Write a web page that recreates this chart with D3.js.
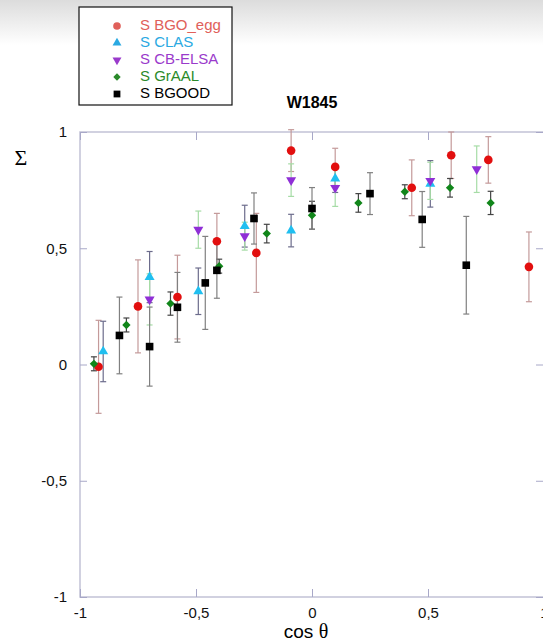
<!DOCTYPE html>
<html>
    <head>
        <meta charset="utf-8">
        <title> W1845 Sigma </title>
        <script type="text/javascript" src="https://d3js.org/d3.v7.min.js"></script>
        <style>
            body { margin: 0; background: white; }
            text { font-family: "Liberation Sans", Arial, Helvetica, sans-serif; }
            .tick text { font-size: 15px; fill: #111; }
            .tick line { stroke: #a8a8c8; }
        </style>
    </head>
    <body>
        <script>

            // Valeurs : cos theta, Sigma, erreur
            var bgoX   = [-0.92, -0.75, -0.58, -0.41, -0.24, -0.09, 0.10, 0.43, 0.60, 0.76, 0.935];
            var bgoY   = [-0.01, 0.25, 0.29, 0.53, 0.48, 0.92, 0.85, 0.76, 0.90, 0.88, 0.42];
            var bgoErr = [0.20, 0.20, 0.18, 0.12, 0.17, 0.09, 0.08, 0.12, 0.10, 0.10, 0.15];

            var clasX   = [-0.90, -0.70, -0.49, -0.29, -0.09, 0.10, 0.51];
            var clasY   = [0.056, 0.376, 0.315, 0.595, 0.576, 0.80, 0.777];
            var clasErr = [0.13, 0.11, 0.10, 0.09, 0.07, 0.06, 0.10];

            var elsaX   = [-0.70, -0.49, -0.29, -0.09, 0.10, 0.51, 0.71];
            var elsaY   = [0.28, 0.58, 0.552, 0.793, 0.76, 0.79, 0.84];
            var elsaErr = [0.11, 0.08, 0.06, 0.07, 0.08, 0.08, 0.10];

            var graalX   = [-0.94, -0.80, -0.61, -0.40, -0.195, 0.0, 0.20, 0.40, 0.595, 0.77];
            var graalY   = [0.003, 0.17, 0.262, 0.423, 0.563, 0.642, 0.695, 0.743, 0.76, 0.695];
            var graalErr = [0.03, 0.03, 0.05, 0.03, 0.04, 0.06, 0.04, 0.03, 0.04, 0.05];

            var bgoodX   = [-0.83, -0.70, -0.58, -0.46, -0.41, -0.25, 0.0, 0.25, 0.475, 0.665];
            var bgoodY   = [0.125, 0.077, 0.246, 0.351, 0.405, 0.628, 0.671, 0.735, 0.624, 0.427];
            var bgoodErr = [0.165, 0.17, 0.15, 0.20, 0.12, 0.11, 0.09, 0.09, 0.12, 0.21];

            var seriesNames = ["S BGO_egg", "S CLAS", "S CB-ELSA", "S GrAAL", "S BGOOD"];
            var tickValues = [-1, -0.5, 0, 0.5, 1];

            var series = [
                {name: seriesNames[0], x: bgoX, y: bgoY, err: bgoErr, color: "#e20f0f", label: "#e0605a", bar: "#c49a9a", shape: "circle"},
                {name: seriesNames[1], x: clasX, y: clasY, err: clasErr, color: "#20bff0", label: "#2aa9e2", bar: "#6c6c8c", shape: "up"},
                {name: seriesNames[2], x: elsaX, y: elsaY, err: elsaErr, color: "#8f2fd6", label: "#9a3acb", bar: "#a6dca6", shape: "down"},
                {name: seriesNames[3], x: graalX, y: graalY, err: graalErr, color: "#11861a", label: "#2a8a2a", bar: "#444444", shape: "diamond"},
                {name: seriesNames[4], x: bgoodX, y: bgoodY, err: bgoodErr, color: "#000000", label: "#000000", bar: "#808080", shape: "square"}
            ];

            var width = 543, height = 643;

            var canvas = d3.select("body").append("svg")
                            .attr("width", width)
                            .attr("height", height);

            // léger dégradé gris en haut de l'image
            var grad = canvas.append("defs").append("linearGradient")
                            .attr("id", "topshade")
                            .attr("x1", 0).attr("y1", 0).attr("x2", 0).attr("y2", 1);
            grad.append("stop").attr("offset", "0%").attr("stop-color", "#dcdcdc");
            grad.append("stop").attr("offset", "100%").attr("stop-color", "#ffffff");
            canvas.append("rect")
                .attr("x", 0).attr("y", 0)
                .attr("width", width).attr("height", 45)
                .attr("fill", "url(#topshade)");

            var x = d3.scaleLinear().domain([-1, 1]).range([80, 544]);
            var y = d3.scaleLinear().domain([-1, 1]).range([597, 132]);

            var fmt = function(d) { return String(d).replace(".", ","); };

            // cadre
            canvas.append("rect")
                .attr("x", x(-1)).attr("y", y(1))
                .attr("width", x(1) - x(-1)).attr("height", y(-1) - y(1))
                .attr("fill", "none")
                .attr("stroke", "#c2c2d6")
                .attr("stroke-width", 1.5);

            // axes, graduations vers l'intérieur
            canvas.append("g")
                .attr("transform", "translate(" + x(-1) + ",0)")
                .call(d3.axisLeft(y).tickValues(tickValues).tickSizeInner(-7).tickSizeOuter(0).tickPadding(13).tickFormat(fmt))
                .call(g => g.select(".domain").remove());

            canvas.append("g")
                .attr("transform", "translate(0," + y(-1) + ")")
                .call(d3.axisBottom(x).tickValues(tickValues).tickSizeInner(-8).tickSizeOuter(0).tickPadding(10).tickFormat(fmt))
                .call(g => g.select(".domain").remove());

            canvas.append("g")
                .attr("transform", "translate(0," + y(1) + ")")
                .call(d3.axisTop(x).tickValues(tickValues).tickSizeInner(-8).tickSizeOuter(0).tickFormat(""))
                .call(g => g.select(".domain").remove());

            canvas.append("g")
                .attr("transform", "translate(" + x(1) + ",0)")
                .call(d3.axisRight(y).tickValues(tickValues).tickSizeInner(-8).tickSizeOuter(0).tickFormat(""))
                .call(g => g.select(".domain").remove());

            // titres
            canvas.append("text")
                .attr("x", 312).attr("y", 108)
                .attr("text-anchor", "middle")
                .attr("font-size", 16).attr("font-weight", "bold")
                .text("W1845");

            canvas.append("text")
                .attr("x", 21).attr("y", 165)
                .attr("text-anchor", "middle")
                .attr("font-size", 22)
                .style("font-family", "'Liberation Serif', 'Times New Roman', serif")
                .text("Σ");

            var xlab = canvas.append("text")
                .attr("x", 306).attr("y", 638)
                .attr("text-anchor", "middle")
                .attr("font-size", 19);
            xlab.append("tspan").text("cos ");
            xlab.append("tspan")
                .style("font-family", "'Liberation Serif', 'Times New Roman', serif")
                .attr("font-size", 20)
                .text("θ");

            // symboles
            function symbolPath(shape, size) {
                if (shape == "circle") return d3.symbol(d3.symbolCircle, size)();
                if (shape == "square") return d3.symbol(d3.symbolSquare, size)();
                if (shape == "diamond") return d3.symbol(d3.symbolSquare, size * 0.6)();
                return d3.symbol(d3.symbolTriangle, size * 0.75)();
            }
            function symbolRotate(shape) {
                if (shape == "down") return 180;
                if (shape == "diamond") return 45;
                return 0;
            }

            var points = series.map(function(s) {
                return s.x.map(function(v, i) { return {x: v, y: s.y[i], e: s.err[i], s: s}; });
            });

            // barres d'erreur
            var bars = canvas.selectAll(".bars")
                        .data(points)
                        .enter()
                        .append("g")
                        .attr("class", "bars");

            var bar = bars.selectAll("g")
                        .data(function(d) { return d; })
                        .enter()
                        .append("g")
                        .attr("stroke", function(d) { return d.s.bar; })
                        .attr("stroke-width", 1.2);

            bar.append("line")
                .attr("x1", function(d) { return x(d.x); })
                .attr("x2", function(d) { return x(d.x); })
                .attr("y1", function(d) { return y(d.y + d.e); })
                .attr("y2", function(d) { return y(d.y - d.e); });
            bar.append("line")
                .attr("x1", function(d) { return x(d.x) - 3; })
                .attr("x2", function(d) { return x(d.x) + 3; })
                .attr("y1", function(d) { return y(d.y + d.e); })
                .attr("y2", function(d) { return y(d.y + d.e); });
            bar.append("line")
                .attr("x1", function(d) { return x(d.x) - 3; })
                .attr("x2", function(d) { return x(d.x) + 3; })
                .attr("y1", function(d) { return y(d.y - d.e); })
                .attr("y2", function(d) { return y(d.y - d.e); });

            // points
            var marks = canvas.selectAll(".marks")
                        .data(points)
                        .enter()
                        .append("g")
                        .attr("class", "marks");

            marks.selectAll("path")
                .data(function(d) { return d; })
                .enter()
                .append("path")
                .attr("d", function(d) { return symbolPath(d.s.shape, 58); })
                .attr("transform", function(d) { return "translate(" + x(d.x) + "," + y(d.y) + ") rotate(" + symbolRotate(d.s.shape) + ")"; })
                .attr("fill", function(d) { return d.s.color; });

            // légende
            var legend = canvas.append("g");
            legend.append("rect")
                .attr("x", 79).attr("y", 7)
                .attr("width", 153).attr("height", 98)
                .attr("fill", "white")
                .attr("stroke", "#111")
                .attr("stroke-width", 1.2);

            var item = legend.selectAll(".item")
                        .data(series)
                        .enter()
                        .append("g")
                        .attr("class", "item")
                        .attr("transform", function(d, i) { return "translate(0," + (30 + i * 17) + ")"; });

            item.append("path")
                .attr("d", function(d) { return symbolPath(d.shape, 46); })
                .attr("transform", function(d) { return "translate(117,-4) rotate(" + symbolRotate(d.shape) + ")"; })
                .attr("fill", function(d) { return d.label; });

            item.append("text")
                .attr("x", 140)
                .attr("font-size", 15)
                .attr("fill", function(d) { return d.label; })
                .text(function(d) { return d.name; });

        </script>
    </body>
</html>
